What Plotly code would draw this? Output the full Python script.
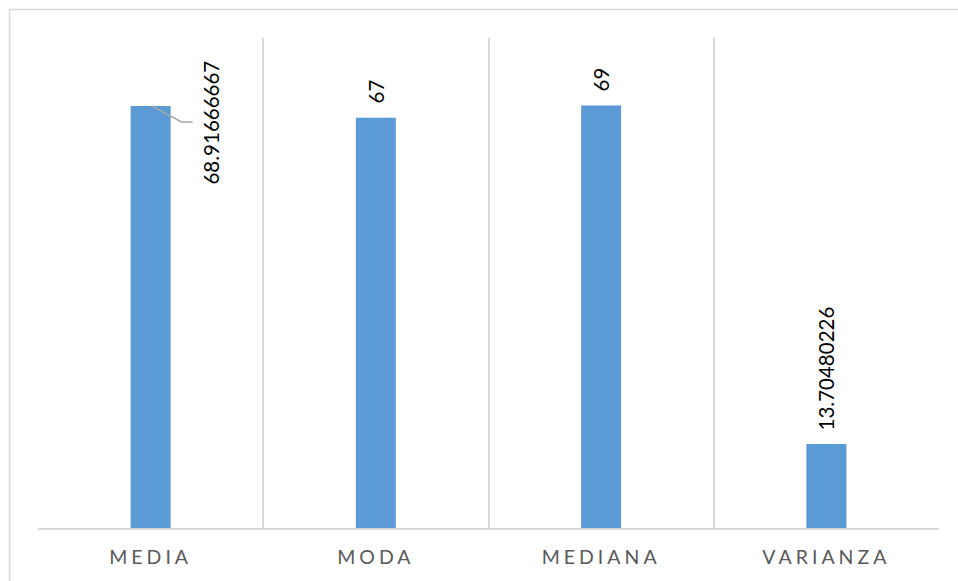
import plotly.graph_objects as go

categories = ["MEDIA", "MODA", "MEDIANA", "VARIANZA"]
values = [68.91666667, 67, 69, 13.70480226]
label_texts = [f"{v:.10g}" for v in values]

W, H = 958, 581
ml, mr, mt, mb = 38, 18.5, 38, 53.3
pw = W - ml - mr
ph = H - mt - mb

fig = go.Figure()
fig.add_trace(go.Bar(
    x=categories, y=values,
    marker=dict(color="#5b9bd5", line=dict(width=0)),
    width=0.1775,
    hoverinfo="x+y",
))

annotations = []
for i, (c, v, t) in enumerate(zip(categories, values, label_texts)):
    if i == 0:
        annotations.append(dict(
            x=c, y=v, xref="x", yref="y", text=t, showarrow=False,
            textangle=-90, xanchor="center", yanchor="middle",
            xshift=60, yshift=-17,
            font=dict(family="Lato, Carlito, sans-serif", size=20.5, color="#000000"),
        ))
    else:
        annotations.append(dict(
            x=c, y=v, xref="x", yref="y", text=t, showarrow=False,
            textangle=-90, xanchor="center", yanchor="bottom",
            yshift=12,
            font=dict(family="Lato, Carlito, sans-serif", size=20.5, color="#000000"),
        ))

shapes = [
    # leader line for first label
    dict(type="path", xref="x", yref="y",
         xsizemode="pixel", ysizemode="pixel",
         xanchor=categories[0], yanchor=values[0],
         path="M1,0 L31,-16 L42,-16",
         line=dict(color="#a6a6a6", width=1.5)),
    # chart outer border
    dict(type="rect", xref="paper", yref="paper",
         x0=-(ml - 9.5) / pw, x1=1 + 40 / pw,
         y0=-(mb + 40) / ph, y1=1 + (mt - 9.5) / ph,
         line=dict(color="#d9d9d9", width=1.5), fillcolor="rgba(0,0,0,0)", layer="below"),
]

fig.update_layout(
    width=W, height=H,
    margin=dict(l=ml, r=mr, t=mt, b=mb, pad=0),
    paper_bgcolor="white", plot_bgcolor="white",
    showlegend=False,
    annotations=annotations,
    shapes=shapes,
    xaxis=dict(
        type="category",
        categoryorder="array", categoryarray=categories,
        range=[-0.5, 3.5],
        tickson="boundaries",
        showgrid=True, gridcolor="#d9d9d9", gridwidth=1.5,
        showline=True, linecolor="#d9d9d9", linewidth=1.5,
        ticks="", ticklen=0,
        tickmode="array", tickvals=categories,
        ticktext=[f'<span style="letter-spacing:4px">{c}</span>' for c in categories],
        tickfont=dict(family="Lato, Carlito, sans-serif", size=19.5, color="#595959"),
        ticklabelstandoff=11,
    ),
    yaxis=dict(
        range=[0, 80], showgrid=False, showticklabels=False,
        zeroline=False, showline=False, ticks="",
    ),
)

fig.write_html("out.html")
